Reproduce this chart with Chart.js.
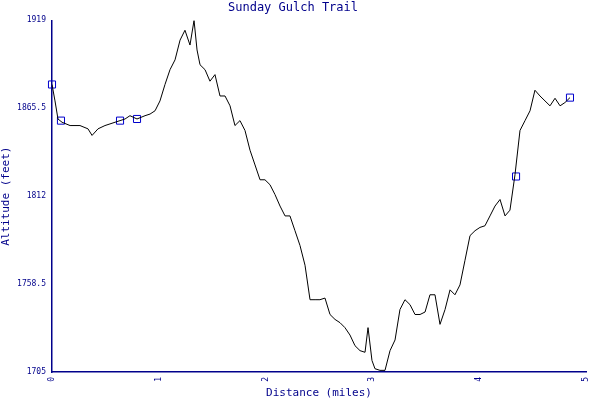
<!DOCTYPE html>
<html>
<head>
<meta charset='utf-8' />
<title>Sunday Gulch Trail</title>
<script src="https://cdn.jsdelivr.net/npm/chart.js"></script>
<style>
body { margin:0; padding:0; background:#fff; }
#wrap { width:600px; height:400px; }
</style>
</head>
<body>
<div id="wrap"><canvas id="chart" width="600" height="400"></canvas></div>
<script>

// 距離(miles)
const miles = [0, 0.028, 0.056, 0.094, 0.169, 0.262, 0.337, 0.375, 0.431, 0.496, 0.543, 0.590, 0.637, 0.684, 0.730, 0.796, 0.871, 0.918, 0.965, 1.011, 1.058, 1.105, 1.152, 1.199, 1.245, 1.292, 1.330, 1.358, 1.386,
  1.433, 1.479, 1.526, 1.573, 1.620, 1.667, 1.713, 1.760, 1.807, 1.854, 1.901, 1.948, 1.994, 2.041, 2.088, 2.135, 2.182, 2.228, 2.275, 2.322, 2.369, 2.416, 2.463, 2.509, 2.556, 2.603, 2.650, 2.697, 2.743, 2.790, 2.837, 2.884, 2.931, 2.959, 2.996, 3.024, 3.071, 3.118, 3.165, 3.212, 3.258, 3.305, 3.352, 3.399, 3.446, 3.493, 3.539, 3.586, 3.633, 3.680, 3.727, 3.773, 3.820, 3.867, 3.914, 3.961, 4.007, 4.054, 4.101, 4.148, 4.195, 4.242, 4.288, 4.335, 4.382, 4.429, 4.476, 4.522, 4.569, 4.616, 4.663, 4.710, 4.757, 4.803, 4.850];

// 標高(feet)
const feet = [1880, 1870, 1859, 1857, 1855, 1855, 1853, 1849, 1853, 1855, 1856, 1857, 1858, 1859, 1861, 1859, 1861, 1862, 1864, 1870, 1880, 1889, 1895, 1907, 1913, 1904, 1919, 1901, 1892,
  1889, 1882, 1886, 1873, 1873, 1867, 1855, 1858, 1852, 1840, 1831, 1822, 1822, 1819, 1813, 1806, 1800, 1800, 1791, 1782, 1770, 1749, 1749, 1749, 1750, 1740, 1737, 1735, 1732, 1727.5, 1721, 1718, 1717, 1732, 1712, 1707, 1706, 1706, 1718, 1724.5, 1743, 1749, 1746, 1740, 1740, 1741.5, 1752, 1752, 1734, 1743, 1755, 1752, 1758, 1773, 1788, 1791, 1793, 1794, 1800, 1806, 1810, 1800, 1803.5, 1825, 1852, 1858, 1864, 1876.5, 1873, 1870, 1867, 1871.6, 1867, 1869, 1872];

// ウェイポイント
const wpMiles = [0, 0.084, 0.637, 0.796, 4.345, 4.850];
const wpFeet = [1880, 1858, 1858, 1859, 1824, 1872];

const yTicks = [1705, 1758.5, 1812, 1865.5, 1919];

const navy = '#00008b';
const font = { family: 'DejaVu Sans Mono', size: 8 };

new Chart(document.getElementById('chart'), {
  type: 'line',
  data: {
    datasets: [{
      data: miles.map((m, i) => ({ x: m, y: feet[i] })),
      borderColor: '#000',
      borderWidth: 1,
      pointRadius: 0,
      tension: 0
    }, {
      data: wpMiles.map((m, i) => ({ x: m, y: wpFeet[i] })),
      showLine: false,
      clip: false,
      pointStyle: 'rect',
      pointRadius: 5,
      borderColor: '#0000cc',
      backgroundColor: 'rgba(0,0,0,0)',
      borderWidth: 1
    }]
  },
  options: {
    responsive: false,
    animation: false,
    layout: { padding: { left: 0, right: 14, top: 0, bottom: 0 } },
    plugins: {
      legend: { display: false },
      tooltip: { enabled: false },
      title: {
        display: true,
        text: 'Sunday Gulch Trail',
        color: navy,
        font: { family: 'DejaVu Sans Mono', size: 12, weight: 'normal' },
        padding: { top: 1, bottom: 5 }
      }
    },
    scales: {
      x: {
        type: 'linear',
        min: 0, max: 5,
        grid: { display: false, tickLength: 4, color: navy },
        border: { color: navy, width: 1.5 },
        ticks: { stepSize: 1, color: navy, font: font, minRotation: 90, maxRotation: 90, padding: 1 },
        title: { display: true, text: 'Distance (miles)', color: navy, font: { family: 'DejaVu Sans Mono', size: 11 }, padding: 0 },
        afterFit: s => { s.height = 28; }
      },
      y: {
        min: 1705, max: 1919,
        afterBuildTicks: s => { s.ticks = yTicks.map(v => ({ value: v })); },
        grid: { display: false, tickLength: 4, color: navy },
        border: { color: navy, width: 1.5 },
        ticks: { color: navy, font: font, padding: 2, callback: v => String(v) },
        title: { display: true, text: 'Altitude (feet)', color: navy, font: { family: 'DejaVu Sans Mono', size: 11 }, padding: 0 },
        afterFit: s => { s.width = 52; }
      }
    }
  }
});
</script>
</body>
</html>
